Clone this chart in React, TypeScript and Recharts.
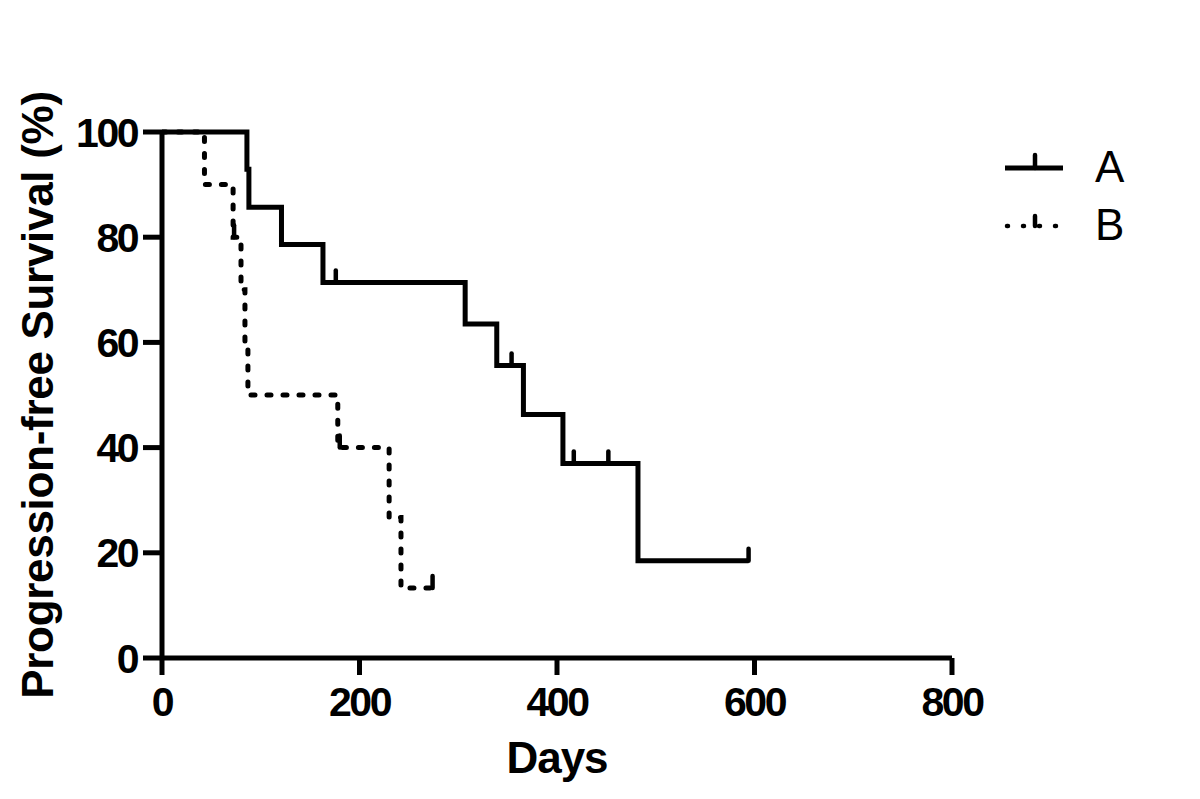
import React from 'react';
import { ComposedChart, Line, Scatter, XAxis, YAxis, Legend } from 'recharts';

// Series A (solid) Kaplan-Meier steps
const aDays = [0, 86, 88, 121, 163, 307, 339, 366, 406, 482, 594];
const aSurv = [100, 92.9, 85.7, 78.6, 71.4, 63.5, 55.6, 46.3, 37.0, 18.5, 18.5];
const aCensorDays = [176, 354, 417, 452, 594];
const aCensorSurv = [71.4, 55.6, 37.0, 37.0, 18.5];

// Series B (dashed)
const bDays = [0, 43, 72, 80, 84, 87, 178, 230, 242, 274];
const bSurv = [100, 90, 80, 70, 60, 50, 40, 26.7, 13.3, 13.3];
const bCensorDays = [73, 180, 274];
const bCensorSurv = [80, 40, 13.3];

const xTicks = [0, 200, 400, 600, 800];
const yTicks = [0, 20, 40, 60, 80, 100];
const seriesNames = ['A', 'B'];

const aData = aDays.map((d, i) => ({ day: d, s: aSurv[i] }));
const bData = bDays.map((d, i) => ({ day: d, s: bSurv[i] }));
const aCensor = aCensorDays.map((d, i) => ({ day: d, s: aCensorSurv[i] }));
const bCensor = bCensorDays.map((d, i) => ({ day: d, s: bCensorSurv[i] }));

const FONT = '"Liberation Sans", Arial, Helvetica, sans-serif';

const CensorTick = (props: any) => {
  const { cx, cy } = props;
  if (cx == null || cy == null) return null;
  return <line x1={cx} x2={cx} y1={cy} y2={cy - 12} stroke="#000" strokeWidth={4.5} strokeLinecap="round" />;
};

const XTitle = (props: any) => {
  const vb = props.viewBox || {};
  const cx = vb.x + vb.width / 2;
  return (
    <text x={cx} y={vb.y + 115} textAnchor="middle" fontFamily={FONT} fontWeight="bold" fontSize={44} letterSpacing={-1} fill="#000">
      Days
    </text>
  );
};

const YTitle = (props: any) => {
  const vb = props.viewBox || {};
  const cy = vb.y + vb.height / 2;
  const x = 53;
  return (
    <text x={x} y={cy} transform={`rotate(-90, ${x}, ${cy})`} textAnchor="middle" fontFamily={FONT} fontWeight="bold" fontSize={44} letterSpacing={-0.3} fill="#000">
      Progression-free Survival (%)
    </text>
  );
};

const LegendContent = () => (
  <svg width={200} height={110}>
    <line x1={15} x2={73} y1={28} y2={28} stroke="#000" strokeWidth={5} />
    <line x1={45} x2={45} y1={15} y2={28} stroke="#000" strokeWidth={4.5} strokeLinecap="round" />
    <text x={105} y={42} fontFamily={FONT} fontSize={44} fill="#000">{seriesNames[0]}</text>
    <line x1={17} x2={73} y1={86} y2={86} stroke="#000" strokeWidth={4.5} strokeDasharray="1 15" strokeLinecap="round" />
    <line x1={45} x2={45} y1={76} y2={86} stroke="#000" strokeWidth={4.5} strokeLinecap="round" />
    <text x={105} y={100} fontFamily={FONT} fontSize={44} fill="#000">{seriesNames[1]}</text>
  </svg>
);

const tickStyle = { fontSize: 41, fontWeight: 'bold', fill: '#000', fontFamily: FONT, letterSpacing: -2.5 } as any;

export default function App() {
  return (
    <div style={{ position: 'absolute', left: 0, top: 0, width: 1200, height: 799, background: '#fff' }}>
      <ComposedChart width={1200} height={799} margin={{ top: 132, right: 248, bottom: 0, left: 0 }}>
        <XAxis
          type="number"
          dataKey="day"
          domain={[0, 800]}
          ticks={xTicks}
          allowDataOverflow
          height={141}
          stroke="#000"
          strokeWidth={5}
          tickSize={17}
          tickMargin={12}
          tick={tickStyle}
          tickLine={{ stroke: '#000', strokeWidth: 5 }}
          label={<XTitle />}
        />
        <YAxis
          type="number"
          dataKey="s"
          domain={[0, 100]}
          ticks={yTicks}
          width={162}
          stroke="#000"
          strokeWidth={5}
          tickSize={19}
          tickMargin={6}
          tick={tickStyle}
          tickLine={{ stroke: '#000', strokeWidth: 5 }}
          label={<YTitle />}
        />
        <Legend
          layout="vertical"
          align="center"
          verticalAlign="middle"
          content={<LegendContent />}
          wrapperStyle={{ position: 'absolute', left: 990, top: 140, width: 200, height: 110 }}
        />
        <Line
          data={aData}
          dataKey="s"
          type="stepAfter"
          stroke="#000"
          strokeWidth={5}
          dot={false}
          activeDot={false}
          isAnimationActive={false}
          name="A"
        />
        <Line
          data={bData}
          dataKey="s"
          type="stepAfter"
          stroke="#000"
          strokeWidth={5}
          strokeDasharray="4 12"
          strokeLinecap="round"
          dot={false}
          activeDot={false}
          isAnimationActive={false}
          name="B"
        />
        <Scatter data={aCensor} dataKey="s" shape={<CensorTick />} isAnimationActive={false} />
        <Scatter data={bCensor} dataKey="s" shape={<CensorTick />} isAnimationActive={false} />
      </ComposedChart>
    </div>
  );
}
